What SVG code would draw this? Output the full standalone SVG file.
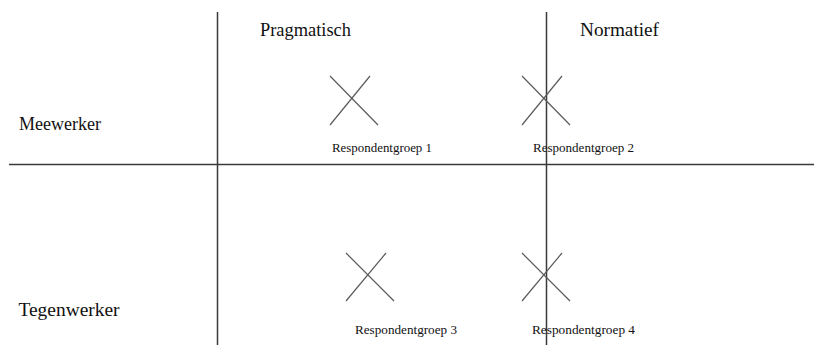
<svg xmlns="http://www.w3.org/2000/svg" width="814" height="345" viewBox="0 0 814 345">
<style>
.axis{stroke:#3a3a3a;stroke-width:1.5;fill:none}
.cross{stroke:#5a5a5a;stroke-width:1.2;fill:none}
.head{font-size:19px;fill:#111}
.lbl{font-size:12px;fill:#111}
</style>
<rect width="814" height="345" fill="#fff"/>
<g id="axes">
<line class="axis" x1="217.5" y1="12" x2="217.5" y2="345"/>
<line class="axis" x1="546.5" y1="12" x2="546.5" y2="345"/>
<line class="axis" x1="9" y1="164.5" x2="814" y2="164.5"/>
</g>
<g id="headers" font-family="'Liberation Serif', 'Times New Roman', 'DejaVu Serif', serif">
<text class="head" x="260" y="36" textLength="91" lengthAdjust="spacingAndGlyphs">Pragmatisch</text>
<text class="head" x="580" y="36" textLength="79" lengthAdjust="spacingAndGlyphs">Normatief</text>
<text class="head" x="19" y="130" textLength="82" lengthAdjust="spacingAndGlyphs">Meewerker</text>
<text class="head" x="18.5" y="316" textLength="101" lengthAdjust="spacingAndGlyphs">Tegenwerker</text>
</g>
<g id="group1" font-family="'Liberation Serif', 'Times New Roman', 'DejaVu Serif', serif">
<line class="cross" x1="330" y1="76" x2="378" y2="125"/>
<line class="cross" x1="370" y1="76" x2="330" y2="125"/>
<text class="lbl" x="332" y="151.5" textLength="100" lengthAdjust="spacingAndGlyphs">Respondentgroep 1</text>
</g>
<g id="group2" font-family="'Liberation Serif', 'Times New Roman', 'DejaVu Serif', serif">
<line class="cross" x1="522" y1="76" x2="570" y2="125"/>
<line class="cross" x1="562" y1="76" x2="522" y2="125"/>
<text class="lbl" x="533" y="151.5" textLength="101" lengthAdjust="spacingAndGlyphs">Respondentgroep 2</text>
</g>
<g id="group3" font-family="'Liberation Serif', 'Times New Roman', 'DejaVu Serif', serif">
<line class="cross" x1="346" y1="253" x2="394" y2="301"/>
<line class="cross" x1="386" y1="253" x2="346" y2="301"/>
<text class="lbl" x="355" y="334" textLength="102" lengthAdjust="spacingAndGlyphs">Respondentgroep 3</text>
</g>
<g id="group4" font-family="'Liberation Serif', 'Times New Roman', 'DejaVu Serif', serif">
<line class="cross" x1="522" y1="253" x2="570" y2="301"/>
<line class="cross" x1="562" y1="253" x2="522" y2="301"/>
<text class="lbl" x="532" y="334" textLength="103" lengthAdjust="spacingAndGlyphs">Respondentgroep 4</text>
</g>
</svg>
